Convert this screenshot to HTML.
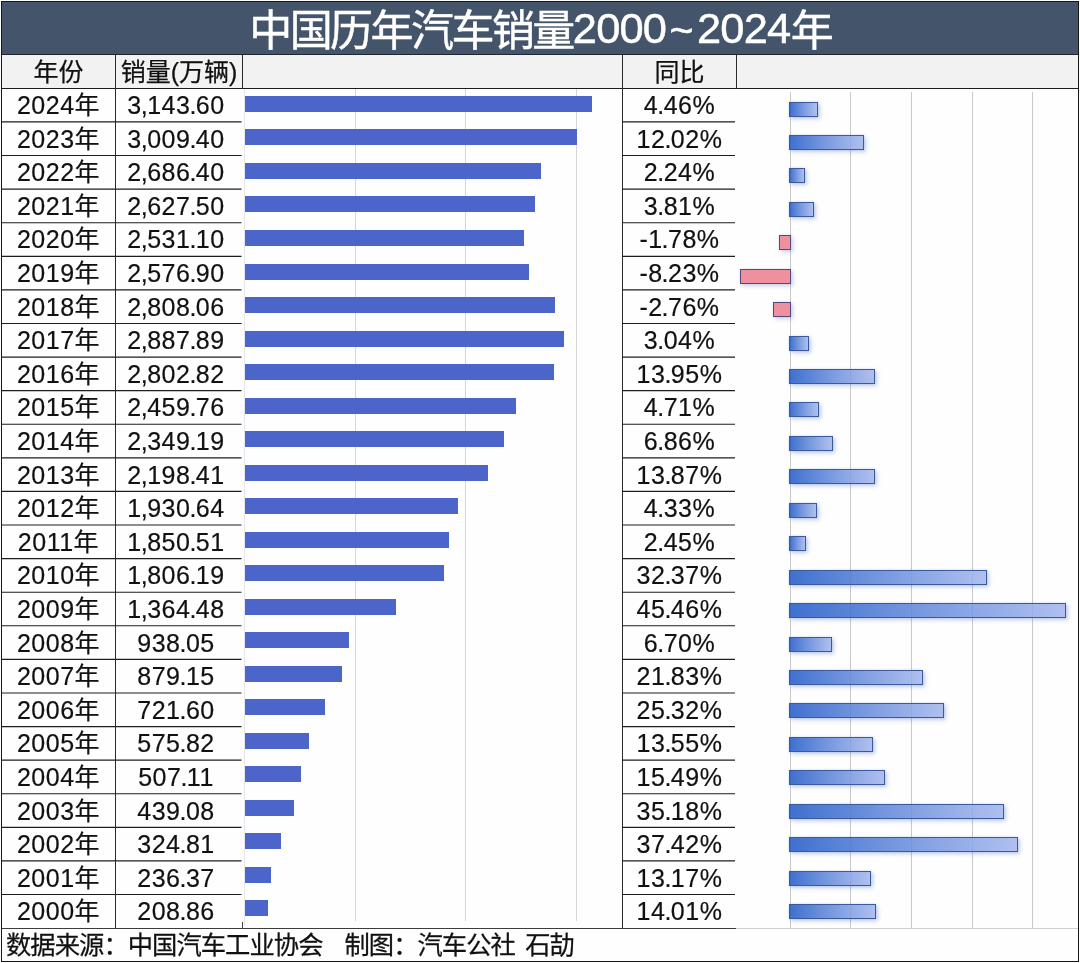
<!DOCTYPE html>
<html lang="zh-CN">
<head>
<meta charset="utf-8">
<title>中国历年汽车销量2000~2024年</title>
<style>
html,body{margin:0;padding:0;background:#fefefe;}
body{width:1080px;height:963px;position:relative;overflow:hidden;font-family:"Liberation Sans","Noto Sans CJK SC",sans-serif;color:#111;}
#wrap{position:absolute;left:0;top:0;width:1080px;height:963px;overflow:hidden;background:#fefefe;}
#txt{position:absolute;left:0;top:0;width:1080px;height:963px;will-change:transform;}
.abs{position:absolute;}
.frame{position:absolute;left:1px;top:1px;width:1078px;height:961px;box-sizing:border-box;border:1px solid #161616;}
.title{position:absolute;left:2px;top:2px;width:1076px;height:52px;background:#44546a;}
.tt{position:absolute;top:5px;height:52px;line-height:52px;color:#fff;white-space:nowrap;}
.tn{top:2px;-webkit-text-stroke:0.5px #fff;}
#n2{top:4px;}
.hdr{position:absolute;left:2px;top:55px;width:1076px;height:33px;background:#f2f2f2;}
.hl{position:absolute;height:1px;background:#1c1c1c;}
.vl{position:absolute;width:1px;background:#2a2a2a;}
.gl{position:absolute;width:1px;background:#d6d6d6;}
.gl2{position:absolute;width:1px;background:#c9c9c9;}
.cj{font-family:"Liberation Sans","Noto Sans CJK SC",sans-serif;-webkit-text-stroke:0.01em currentColor;}
.sp{display:inline-block;width:0.28em;}
.cell{position:absolute;text-align:center;white-space:nowrap;font-size:25px;line-height:33px;height:33px;letter-spacing:0.5px;-webkit-text-stroke:0.2px #111;}
.cell .p{margin:0 -1px;}
.hcell{position:absolute;text-align:center;white-space:nowrap;font-size:25px;line-height:33px;height:33px;}
.b1{position:absolute;background:#4c65cb;}
.b2{position:absolute;box-sizing:border-box;border:1px solid #3b599d;background:linear-gradient(90deg,rgba(37,93,201,.88) 0%,rgba(104,141,220,.88) 50%,rgba(164,183,237,.88) 100%);box-shadow:2px 2px 4px rgba(80,110,190,.34),0 0 2px rgba(90,130,220,.22);}
.b2n{position:absolute;box-sizing:border-box;border:1px solid #54487f;background:#ee909d;box-shadow:2px 2px 4px rgba(80,110,190,.30),0 0 2px rgba(90,130,220,.18);}
.foot{position:absolute;left:6px;top:929px;height:32px;line-height:32px;font-size:24.35px;white-space:nowrap;}
.foot .cj{font-size:25.3px;letter-spacing:-0.95px;}
</style>
</head>
<body>
<div id="wrap">

<div class="title"></div>
<div class="hdr"></div>
<div class="hl" style="left:2px;top:54px;width:1076px;background:#20262e"></div>
<div class="hl" style="left:2px;top:88px;width:1076px;"></div>
<div class="vl" style="left:115px;top:55px;height:34px;"></div>
<div class="vl" style="left:242px;top:55px;height:34px;"></div>
<div class="vl" style="left:622px;top:55px;height:34px;"></div>
<div class="vl" style="left:736px;top:55px;height:34px;"></div>
<div class="vl" style="left:115px;top:88px;height:840px;"></div>
<div class="vl" style="left:622px;top:88px;height:840px;"></div>
<div class="gl" style="left:244px;top:89px;height:837px;background:#e6e5ef"></div>
<div class="vl" style="left:242px;top:922px;height:6px;background:#444"></div>
<div class="gl" style="left:355px;top:89px;height:832px;"></div>
<div class="gl" style="left:465px;top:89px;height:832px;"></div>
<div class="gl" style="left:576px;top:89px;height:832px;"></div>
<div class="gl2" style="left:790px;top:92px;height:836px;"></div>
<div class="gl2" style="left:850px;top:92px;height:836px;"></div>
<div class="gl2" style="left:911px;top:92px;height:836px;"></div>
<div class="gl2" style="left:972px;top:92px;height:836px;"></div>
<div class="gl2" style="left:1032px;top:92px;height:836px;"></div>
<div class="b1" style="left:245.0px;top:96px;width:346.9px;height:16px;"></div>
<div class="b2" style="left:789.4px;top:101.6px;width:28.6px;height:15.0px;"></div>
<div class="b1" style="left:245.0px;top:129px;width:332.1px;height:16px;"></div>
<div class="b2" style="left:789.4px;top:135.0px;width:74.4px;height:15.0px;"></div>
<div class="b1" style="left:245.0px;top:163px;width:296.4px;height:16px;"></div>
<div class="b2" style="left:789.4px;top:168.4px;width:15.2px;height:15.0px;"></div>
<div class="b1" style="left:245.0px;top:196px;width:289.9px;height:16px;"></div>
<div class="b2" style="left:789.4px;top:201.9px;width:24.7px;height:15.0px;"></div>
<div class="b1" style="left:245.0px;top:230px;width:279.3px;height:16px;"></div>
<div class="b2n" style="left:778.8px;top:235.3px;width:12.0px;height:15.0px;"></div>
<div class="b1" style="left:245.0px;top:264px;width:284.4px;height:16px;"></div>
<div class="b2n" style="left:739.7px;top:268.7px;width:51.1px;height:15.0px;"></div>
<div class="b1" style="left:245.0px;top:297px;width:309.9px;height:16px;"></div>
<div class="b2n" style="left:772.9px;top:302.1px;width:17.9px;height:15.0px;"></div>
<div class="b1" style="left:245.0px;top:331px;width:318.7px;height:16px;"></div>
<div class="b2" style="left:789.4px;top:335.6px;width:20.0px;height:15.0px;"></div>
<div class="b1" style="left:245.0px;top:364px;width:309.3px;height:16px;"></div>
<div class="b2" style="left:789.4px;top:369.0px;width:86.1px;height:15.0px;"></div>
<div class="b1" style="left:245.0px;top:398px;width:271.4px;height:16px;"></div>
<div class="b2" style="left:789.4px;top:402.4px;width:30.1px;height:15.0px;"></div>
<div class="b1" style="left:245.0px;top:431px;width:259.2px;height:16px;"></div>
<div class="b2" style="left:789.4px;top:435.9px;width:43.2px;height:15.0px;"></div>
<div class="b1" style="left:245.0px;top:465px;width:242.6px;height:16px;"></div>
<div class="b2" style="left:789.4px;top:469.3px;width:85.7px;height:15.0px;"></div>
<div class="b1" style="left:245.0px;top:498px;width:213.0px;height:16px;"></div>
<div class="b2" style="left:789.4px;top:502.7px;width:27.8px;height:15.0px;"></div>
<div class="b1" style="left:245.0px;top:532px;width:204.2px;height:16px;"></div>
<div class="b2" style="left:789.4px;top:536.2px;width:16.4px;height:15.0px;"></div>
<div class="b1" style="left:245.0px;top:565px;width:199.3px;height:16px;"></div>
<div class="b2" style="left:789.4px;top:569.6px;width:197.8px;height:15.0px;"></div>
<div class="b1" style="left:245.0px;top:599px;width:150.6px;height:16px;"></div>
<div class="b2" style="left:789.4px;top:603.0px;width:277.1px;height:15.0px;"></div>
<div class="b1" style="left:245.0px;top:632px;width:103.5px;height:16px;"></div>
<div class="b2" style="left:789.4px;top:636.5px;width:42.2px;height:15.0px;"></div>
<div class="b1" style="left:245.0px;top:666px;width:97.0px;height:16px;"></div>
<div class="b2" style="left:789.4px;top:669.9px;width:133.9px;height:15.0px;"></div>
<div class="b1" style="left:245.0px;top:699px;width:79.6px;height:16px;"></div>
<div class="b2" style="left:789.4px;top:703.3px;width:155.0px;height:15.0px;"></div>
<div class="b1" style="left:245.0px;top:733px;width:63.5px;height:16px;"></div>
<div class="b2" style="left:789.4px;top:736.7px;width:83.7px;height:15.0px;"></div>
<div class="b1" style="left:245.0px;top:766px;width:56.0px;height:16px;"></div>
<div class="b2" style="left:789.4px;top:770.2px;width:95.5px;height:15.0px;"></div>
<div class="b1" style="left:245.0px;top:800px;width:48.5px;height:16px;"></div>
<div class="b2" style="left:789.4px;top:803.6px;width:214.8px;height:15.0px;"></div>
<div class="b1" style="left:245.0px;top:833px;width:35.8px;height:16px;"></div>
<div class="b2" style="left:789.4px;top:837.0px;width:228.4px;height:15.0px;"></div>
<div class="b1" style="left:245.0px;top:867px;width:26.1px;height:16px;"></div>
<div class="b2" style="left:789.4px;top:870.5px;width:81.4px;height:15.0px;"></div>
<div class="b1" style="left:245.0px;top:900px;width:23.0px;height:16px;"></div>
<div class="b2" style="left:789.4px;top:903.9px;width:86.5px;height:15.0px;"></div>
<svg class="abs" style="left:0;top:0" width="1080" height="963" viewBox="0 0 1080 963"><path d="M2 121.94H241.5M622 121.94H735.0M2 155.53H241.5M622 155.53H735.0M2 189.12H241.5M622 189.12H735.0M2 222.71H241.5M622 222.71H735.0M2 256.30H241.5M622 256.30H735.0M2 289.89H241.5M622 289.89H735.0M2 323.48H241.5M622 323.48H735.0M2 357.07H241.5M622 357.07H735.0M2 390.66H241.5M622 390.66H735.0M2 424.25H241.5M622 424.25H735.0M2 457.84H241.5M622 457.84H735.0M2 491.43H241.5M622 491.43H735.0M2 525.02H241.5M622 525.02H735.0M2 558.61H241.5M622 558.61H735.0M2 592.20H241.5M622 592.20H735.0M2 625.79H241.5M622 625.79H735.0M2 659.38H241.5M622 659.38H735.0M2 692.97H241.5M622 692.97H735.0M2 726.56H241.5M622 726.56H735.0M2 760.15H241.5M622 760.15H735.0M2 793.74H241.5M622 793.74H735.0M2 827.33H241.5M622 827.33H735.0M2 860.92H241.5M622 860.92H735.0M2 894.51H241.5M622 894.51H735.0" fill="none" stroke="#1e1e1e" stroke-width="1.15"/></svg>
<div class="hl" style="left:2px;top:928px;width:734px;background:#3c3c3c"></div>
<div class="hl" style="left:736px;top:928px;width:342px;background:#cfcfcf"></div>
<div class="frame"></div>
<div id="txt">
<div class="tt cj" role="heading" style="left:249.2px;font-size:43px;letter-spacing:-2.55px">中国历年汽车销量</div>
<div class="tt tn" id="n1" style="left:572.8px;font-size:43.4px;letter-spacing:-0.8px">2000</div>
<div class="tt tn" id="n2" style="left:669.4px;font-size:41px">~</div>
<div class="tt tn" id="n3" style="left:697.0px;font-size:43.4px;letter-spacing:-0.8px">2024</div>
<div class="tt cj" style="left:790.8px;font-size:43px;letter-spacing:-2.55px">年</div>
<div class="hcell cj" style="left:2px;top:56px;width:113px;">年份</div>
<div class="hcell cj" style="left:116px;top:56px;width:126px;">销量(万辆)</div>
<div class="hcell cj" style="left:623px;top:56px;width:113px;">同比</div>
<div class="cell" style="left:2px;top:89px;width:113px;">2024年</div>
<div class="cell" style="left:116px;top:89px;width:120px;">3<span class="p">,</span>143<span class="p">.</span>60</div>
<div class="cell" style="left:623px;top:89px;width:113px;">4<span class="p">.</span>46%</div>
<div class="cell" style="left:2px;top:123px;width:113px;">2023年</div>
<div class="cell" style="left:116px;top:123px;width:120px;">3<span class="p">,</span>009<span class="p">.</span>40</div>
<div class="cell" style="left:623px;top:123px;width:113px;">12<span class="p">.</span>02%</div>
<div class="cell" style="left:2px;top:156px;width:113px;">2022年</div>
<div class="cell" style="left:116px;top:156px;width:120px;">2<span class="p">,</span>686<span class="p">.</span>40</div>
<div class="cell" style="left:623px;top:156px;width:113px;">2<span class="p">.</span>24%</div>
<div class="cell" style="left:2px;top:190px;width:113px;">2021年</div>
<div class="cell" style="left:116px;top:190px;width:120px;">2<span class="p">,</span>627<span class="p">.</span>50</div>
<div class="cell" style="left:623px;top:190px;width:113px;">3<span class="p">.</span>81%</div>
<div class="cell" style="left:2px;top:223px;width:113px;">2020年</div>
<div class="cell" style="left:116px;top:223px;width:120px;">2<span class="p">,</span>531<span class="p">.</span>10</div>
<div class="cell" style="left:623px;top:223px;width:113px;">-1<span class="p">.</span>78%</div>
<div class="cell" style="left:2px;top:257px;width:113px;">2019年</div>
<div class="cell" style="left:116px;top:257px;width:120px;">2<span class="p">,</span>576<span class="p">.</span>90</div>
<div class="cell" style="left:623px;top:257px;width:113px;">-8<span class="p">.</span>23%</div>
<div class="cell" style="left:2px;top:291px;width:113px;">2018年</div>
<div class="cell" style="left:116px;top:291px;width:120px;">2<span class="p">,</span>808<span class="p">.</span>06</div>
<div class="cell" style="left:623px;top:291px;width:113px;">-2<span class="p">.</span>76%</div>
<div class="cell" style="left:2px;top:324px;width:113px;">2017年</div>
<div class="cell" style="left:116px;top:324px;width:120px;">2<span class="p">,</span>887<span class="p">.</span>89</div>
<div class="cell" style="left:623px;top:324px;width:113px;">3<span class="p">.</span>04%</div>
<div class="cell" style="left:2px;top:358px;width:113px;">2016年</div>
<div class="cell" style="left:116px;top:358px;width:120px;">2<span class="p">,</span>802<span class="p">.</span>82</div>
<div class="cell" style="left:623px;top:358px;width:113px;">13<span class="p">.</span>95%</div>
<div class="cell" style="left:2px;top:391px;width:113px;">2015年</div>
<div class="cell" style="left:116px;top:391px;width:120px;">2<span class="p">,</span>459<span class="p">.</span>76</div>
<div class="cell" style="left:623px;top:391px;width:113px;">4<span class="p">.</span>71%</div>
<div class="cell" style="left:2px;top:425px;width:113px;">2014年</div>
<div class="cell" style="left:116px;top:425px;width:120px;">2<span class="p">,</span>349<span class="p">.</span>19</div>
<div class="cell" style="left:623px;top:425px;width:113px;">6<span class="p">.</span>86%</div>
<div class="cell" style="left:2px;top:459px;width:113px;">2013年</div>
<div class="cell" style="left:116px;top:459px;width:120px;">2<span class="p">,</span>198<span class="p">.</span>41</div>
<div class="cell" style="left:623px;top:459px;width:113px;">13<span class="p">.</span>87%</div>
<div class="cell" style="left:2px;top:492px;width:113px;">2012年</div>
<div class="cell" style="left:116px;top:492px;width:120px;">1<span class="p">,</span>930<span class="p">.</span>64</div>
<div class="cell" style="left:623px;top:492px;width:113px;">4<span class="p">.</span>33%</div>
<div class="cell" style="left:2px;top:526px;width:113px;">2011年</div>
<div class="cell" style="left:116px;top:526px;width:120px;">1<span class="p">,</span>850<span class="p">.</span>51</div>
<div class="cell" style="left:623px;top:526px;width:113px;">2<span class="p">.</span>45%</div>
<div class="cell" style="left:2px;top:559px;width:113px;">2010年</div>
<div class="cell" style="left:116px;top:559px;width:120px;">1<span class="p">,</span>806<span class="p">.</span>19</div>
<div class="cell" style="left:623px;top:559px;width:113px;">32<span class="p">.</span>37%</div>
<div class="cell" style="left:2px;top:593px;width:113px;">2009年</div>
<div class="cell" style="left:116px;top:593px;width:120px;">1<span class="p">,</span>364<span class="p">.</span>48</div>
<div class="cell" style="left:623px;top:593px;width:113px;">45<span class="p">.</span>46%</div>
<div class="cell" style="left:2px;top:627px;width:113px;">2008年</div>
<div class="cell" style="left:116px;top:627px;width:120px;">938<span class="p">.</span>05</div>
<div class="cell" style="left:623px;top:627px;width:113px;">6<span class="p">.</span>70%</div>
<div class="cell" style="left:2px;top:660px;width:113px;">2007年</div>
<div class="cell" style="left:116px;top:660px;width:120px;">879<span class="p">.</span>15</div>
<div class="cell" style="left:623px;top:660px;width:113px;">21<span class="p">.</span>83%</div>
<div class="cell" style="left:2px;top:694px;width:113px;">2006年</div>
<div class="cell" style="left:116px;top:694px;width:120px;">721<span class="p">.</span>60</div>
<div class="cell" style="left:623px;top:694px;width:113px;">25<span class="p">.</span>32%</div>
<div class="cell" style="left:2px;top:727px;width:113px;">2005年</div>
<div class="cell" style="left:116px;top:727px;width:120px;">575<span class="p">.</span>82</div>
<div class="cell" style="left:623px;top:727px;width:113px;">13<span class="p">.</span>55%</div>
<div class="cell" style="left:2px;top:761px;width:113px;">2004年</div>
<div class="cell" style="left:116px;top:761px;width:120px;">507<span class="p">.</span>11</div>
<div class="cell" style="left:623px;top:761px;width:113px;">15<span class="p">.</span>49%</div>
<div class="cell" style="left:2px;top:795px;width:113px;">2003年</div>
<div class="cell" style="left:116px;top:795px;width:120px;">439<span class="p">.</span>08</div>
<div class="cell" style="left:623px;top:795px;width:113px;">35<span class="p">.</span>18%</div>
<div class="cell" style="left:2px;top:828px;width:113px;">2002年</div>
<div class="cell" style="left:116px;top:828px;width:120px;">324<span class="p">.</span>81</div>
<div class="cell" style="left:623px;top:828px;width:113px;">37<span class="p">.</span>42%</div>
<div class="cell" style="left:2px;top:862px;width:113px;">2001年</div>
<div class="cell" style="left:116px;top:862px;width:120px;">236<span class="p">.</span>37</div>
<div class="cell" style="left:623px;top:862px;width:113px;">13<span class="p">.</span>17%</div>
<div class="cell" style="left:2px;top:895px;width:113px;">2000年</div>
<div class="cell" style="left:116px;top:895px;width:120px;">208<span class="p">.</span>86</div>
<div class="cell" style="left:623px;top:895px;width:113px;">14<span class="p">.</span>01%</div>
<div class="foot"><span class="cj">数据来源：中国汽车工业协会</span><span class="sp"></span><span class="sp"></span><span class="sp"></span><span style="display:inline-block;width:1.5px"></span><span class="cj">制图：汽车公社</span><span class="sp"></span><span style="display:inline-block;width:3.5px"></span><span class="cj">石劼</span></div>
</div>
</div>
</body>
</html>
